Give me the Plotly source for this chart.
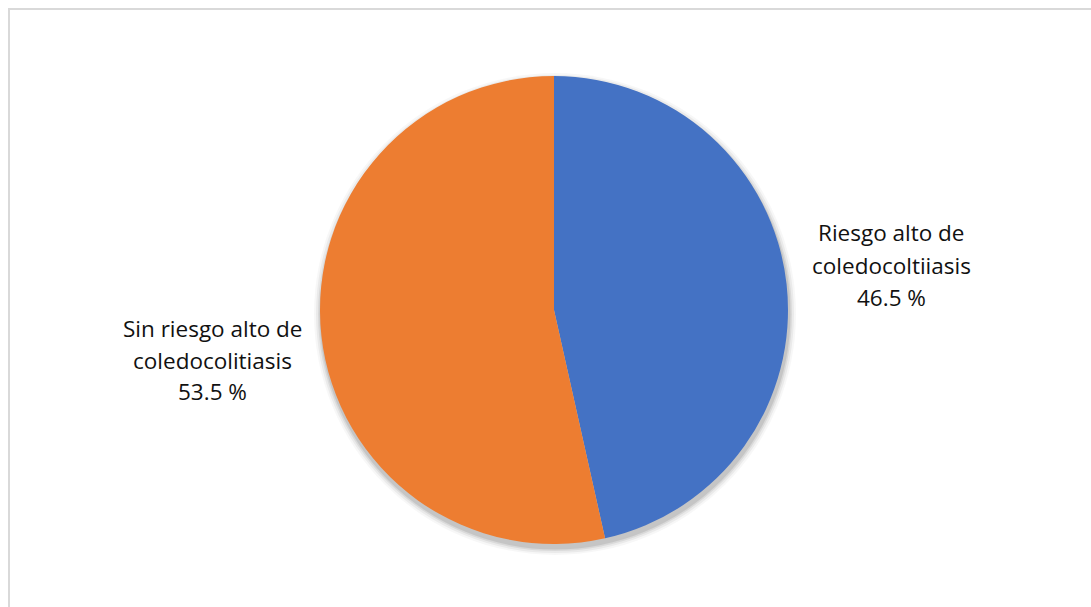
import plotly.graph_objects as go

# Data
categories = ["Riesgo alto de coledocoltiiasis", "Sin riesgo alto de coledocolitiasis"]
label_lines = [["Riesgo alto de", "coledocoltiiasis"], ["Sin riesgo alto de", "coledocolitiasis"]]
values = [46.5, 53.5]
colors = ["#4472C4", "#ED7D31"]

W, H = 1091, 607
cx, cy, r = 554, 310, 234  # pie centre / radius in pixels


def px_x(x):
    return x / W


def px_y(y):
    return 1 - y / H


fig = go.Figure()
fig.add_trace(go.Pie(
    labels=categories,
    values=values,
    marker=dict(colors=colors, line=dict(width=0)),
    sort=False,
    direction="clockwise",
    rotation=0,
    textinfo="none",
    hoverinfo="label+percent",
    domain=dict(x=[px_x(cx - r), px_x(cx + r)], y=[px_y(cy + r), px_y(cy - r)]),
    showlegend=False,
))

shapes = []
# soft drop shadow under the pie
for grow, op in [(7, 0.03), (5, 0.05), (3, 0.07), (1.5, 0.09)]:
    rr = r + grow
    ox, oy = 1, 4
    shapes.append(dict(
        type="circle", xref="paper", yref="paper", layer="below",
        x0=px_x(cx + ox - rr), x1=px_x(cx + ox + rr),
        y0=px_y(cy + oy + rr), y1=px_y(cy + oy - rr),
        fillcolor=f"rgba(0,0,0,{op})", line=dict(width=0),
    ))
# chart area border
shapes.append(dict(
    type="rect", xref="paper", yref="paper", layer="below",
    x0=px_x(9), x1=1.02, y0=-0.02, y1=px_y(9),
    line=dict(color="#D9D9D9", width=2), fillcolor="rgba(0,0,0,0)",
))

annotations = []
label_pos = [(891, [232, 265, 297]), (212, [328, 360, 392])]
for lines, val, (lx, ys) in zip(label_lines, values, label_pos):
    texts = lines + [f"{val} %"]
    for t, y in zip(texts, ys):
        annotations.append(dict(
            x=px_x(lx), y=px_y(y), xref="paper", yref="paper",
            text=t, showarrow=False, xanchor="center", yanchor="middle",
            font=dict(family="Open Sans", size=22.5, color="#111111"),
        ))

fig.update_layout(
    width=W, height=H,
    margin=dict(l=0, r=0, t=0, b=0),
    paper_bgcolor="white",
    plot_bgcolor="white",
    shapes=shapes,
    annotations=annotations,
)

fig.write_html("out.html")
